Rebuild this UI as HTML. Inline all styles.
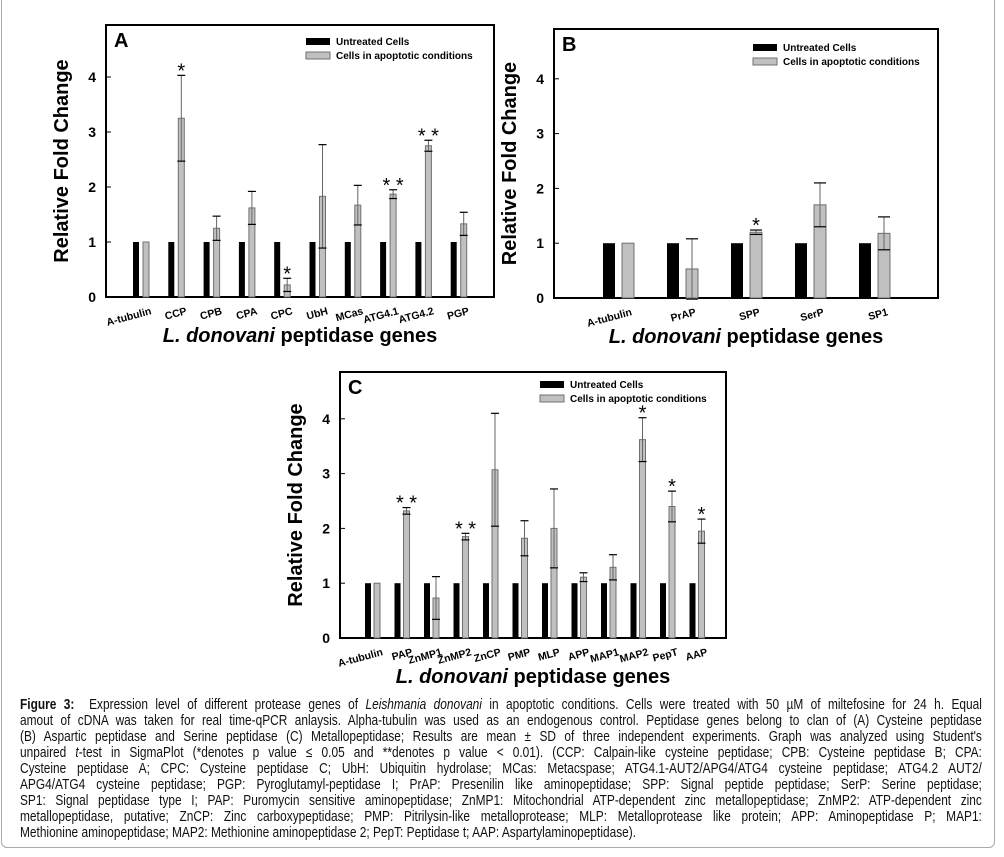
<!DOCTYPE html>
<html><head><meta charset="utf-8"><style>
body{margin:0;background:#fff;width:1004px;height:857px;overflow:hidden;position:relative;font-family:"Liberation Sans",sans-serif}
#outer{position:absolute;left:1px;top:-6px;width:994px;height:854px;border:1px solid #aaa;border-radius:6px;box-sizing:border-box}
#cap{position:absolute;left:20px;top:697px;width:1173px;transform:scaleX(0.82);transform-origin:0 0;font-size:14.5px;line-height:16px;color:#111}
#cap div{white-space:nowrap;text-align:justify;text-align-last:justify}
#cap div.last{text-align-last:left}
svg{position:absolute;left:0;top:0}
</style></head><body>
<div id="outer"></div>
<svg id="chart" width="1004" height="700"></svg>
<div id="cap">
<div><b>Figure 3:</b>&nbsp; Expression level of different protease genes of <i>Leishmania donovani</i> in apoptotic conditions. Cells were treated with 50 µM of miltefosine for 24 h. Equal</div>
<div>amout of cDNA was taken for real time-qPCR anlaysis. Alpha-tubulin was used as an endogenous control. Peptidase genes belong to clan of (A) Cysteine peptidase</div>
<div>(B) Aspartic peptidase and Serine peptidase (C) Metallopeptidase; Results are mean ± SD of three independent experiments. Graph was analyzed using Student's</div>
<div>unpaired <i>t</i>-test in SigmaPlot (*denotes p value ≤ 0.05 and **denotes p value &lt; 0.01). (CCP: Calpain-like cysteine peptidase; CPB: Cysteine peptidase B; CPA:</div>
<div>Cysteine peptidase A; CPC: Cysteine peptidase C; UbH: Ubiquitin hydrolase; MCas: Metacspase; ATG4.1-AUT2/APG4/ATG4 cysteine peptidase; ATG4.2 AUT2/</div>
<div>APG4/ATG4 cysteine peptidase; PGP: Pyroglutamyl-peptidase I; PrAP: Presenilin like aminopeptidase; SPP: Signal peptide peptidase; SerP: Serine peptidase;</div>
<div>SP1: Signal peptidase type I; PAP: Puromycin sensitive aminopeptidase; ZnMP1: Mitochondrial ATP-dependent zinc metallopeptidase; ZnMP2: ATP-dependent zinc</div>
<div>metallopeptidase, putative; ZnCP: Zinc carboxypeptidase; PMP: Pitrilysin-like metalloprotease; MLP: Metalloprotease like protein; APP: Aminopeptidase P; MAP1:</div>
<div class="last">Methionine aminopeptidase; MAP2: Methionine aminopeptidase 2; PepT: Peptidase t; AAP: Aspartylaminopeptidase).</div>
</div>
<script>
// Panel A data
const catsA = ["A-tubulin","CCP","CPB","CPA","CPC","UbH","MCas","ATG4.1","ATG4.2","PGP"];
const untreatedA = [1,1,1,1,1,1,1,1,1,1];
const apoptoticA = [1,3.25,1.25,1.62,0.22,1.83,1.67,1.87,2.75,1.33];
const sdA = [0,0.78,0.22,0.30,0.12,0.94,0.36,0.08,0.10,0.21];
const sigA = ["","*","","","*","","","**","**",""];
// Panel B data
const catsB = ["A-tubulin","PrAP","SPP","SerP","SP1"];
const untreatedB = [1,1,1,1,1];
const apoptoticB = [1,0.53,1.2,1.7,1.18];
const sdB = [0,0.55,0.04,0.40,0.30];
const sigB = ["","","*","",""];
// Panel C data
const catsC = ["A-tubulin","PAP","ZnMP1","ZnMP2","ZnCP","PMP","MLP","APP","MAP1","MAP2","PepT","AAP"];
const untreatedC = [1,1,1,1,1,1,1,1,1,1,1,1];
const apoptoticC = [1,2.32,0.73,1.85,3.07,1.82,2.0,1.11,1.29,3.62,2.4,1.95];
const sdC = [0,0.06,0.39,0.06,1.03,0.32,0.72,0.08,0.23,0.40,0.28,0.22];
const sigC = ["","**","","**","","","","","","*","*","*"];
const yTicks = [0,1,2,3,4];

const NS="http://www.w3.org/2000/svg";
const svg=document.getElementById('chart');
function mk(tag,attrs,parent){const e=document.createElementNS(NS,tag);for(const k in attrs)e.setAttribute(k,attrs[k]);(parent||svg).appendChild(e);return e;}

function panel(p){
  const g=mk('g',{});
  
  
  const y=v=>p.bottom-v*p.unit;
  const x=i=>p.x0+i*p.step;
  const fr=mk('rect',{x:p.left,y:p.top,width:p.right-p.left,height:p.bottom-p.top,fill:'none',stroke:'#000','stroke-width':2},g);
  
  const lab=mk('text',{x:p.left+8,y:p.top+22,'font-size':20,'font-weight':'bold'},g);lab.textContent=p.id;
  
  yTicks.forEach(t=>{
    const tl=mk('text',{x:p.left-10,y:y(t)+5,'font-size':14,'font-weight':'bold','text-anchor':'end'},g);tl.textContent=t;
    
    mk('line',{x1:p.left,x2:p.left+5,y1:y(t),y2:y(t),stroke:'#000'},g);
  });
  const yt=mk('text',{transform:`translate(${p.left-38},${(p.top+p.bottom)/2}) rotate(-90)`,'font-size':20,'font-weight':'bold','text-anchor':'middle'},g);
  yt.textContent='Relative Fold Change';
  
  const xt=mk('text',{x:(p.left+p.right)/2,y:p.bottom+45,'font-size':20,'font-weight':'bold','text-anchor':'middle'},g);
  xt.innerHTML='<tspan font-style="italic">L. donovani</tspan> peptidase genes';
  
  p.cats.forEach((c,i)=>{
    const bx=x(i);
    const b1=mk('rect',{x:bx,y:y(p.u[i]),width:p.w,height:p.u[i]*p.unit,fill:'#000'},g);
    
    
    const gx=bx+p.off;
    const b2=mk('rect',{x:gx,y:y(p.a[i]),width:p.w,height:p.a[i]*p.unit,fill:'#c0c0c0',stroke:'#707070','stroke-width':1},g);
    
    
    const cx=gx+p.w/2;
    if(p.sd[i]>0){
      const lo=y(p.a[i]-p.sd[i]),hi=y(p.a[i]+p.sd[i]);
      const eb=mk('line',{x1:cx,x2:cx,y1:lo,y2:hi,stroke:'#666','stroke-width':1},g);
      
      mk('line',{x1:cx-p.cap,x2:cx+p.cap,y1:hi,y2:hi,stroke:'#000','stroke-width':1.2},g);
      mk('line',{x1:cx-p.cap,x2:cx+p.cap,y1:lo,y2:lo,stroke:'#000','stroke-width':1.2},g);
    }
    if(p.sig[i]){
      const top=p.a[i]+p.sd[i];
      const s=mk('text',{x:cx,y:y(top)+2,'font-size':20,'text-anchor':'middle'},g);
      s.textContent=p.sig[i].split('').join(' ');
      
    }
    const tl=mk('text',{transform:`translate(${bx+p.w+p.off/2+8},${p.bottom+17}) rotate(-15)`,'font-size':10.5,'font-weight':'bold','text-anchor':'end'},g);
    tl.textContent=c;
    
  });
  const lg=mk('g',{},g);
  
  
  mk('rect',{x:p.lx,y:p.ly,width:24,height:7,fill:'#000'},lg);
  mk('rect',{x:p.lx,y:p.ly+14,width:24,height:7,fill:'#c0c0c0',stroke:'#707070'},lg);
  const l1=mk('text',{x:p.lx+30,y:p.ly+7,'font-size':10,'font-weight':'bold'},lg);l1.textContent='Untreated Cells';
  
  const l2=mk('text',{x:p.lx+30,y:p.ly+21,'font-size':10,'font-weight':'bold'},lg);l2.textContent='Cells in apoptotic conditions';
  
}
panel({id:'A',left:106,right:494,top:25,bottom:297,unit:55,x0:133,step:35.3,w:6,off:10,cap:4,cats:catsA,u:untreatedA,a:apoptoticA,sd:sdA,sig:sigA,lx:306,ly:38});
panel({id:'B',left:554,right:938,top:29,bottom:298,unit:54.8,x0:603,step:64,w:12,off:19,cap:6,cats:catsB,u:untreatedB,a:apoptoticB,sd:sdB,sig:sigB,lx:753,ly:44});
panel({id:'C',left:340,right:726,top:372,bottom:638,unit:54.8,x0:365,step:29.5,w:6,off:9,cap:4,cats:catsC,u:untreatedC,a:apoptoticC,sd:sdC,sig:sigC,lx:540,ly:381});
</script>
</body></html>
